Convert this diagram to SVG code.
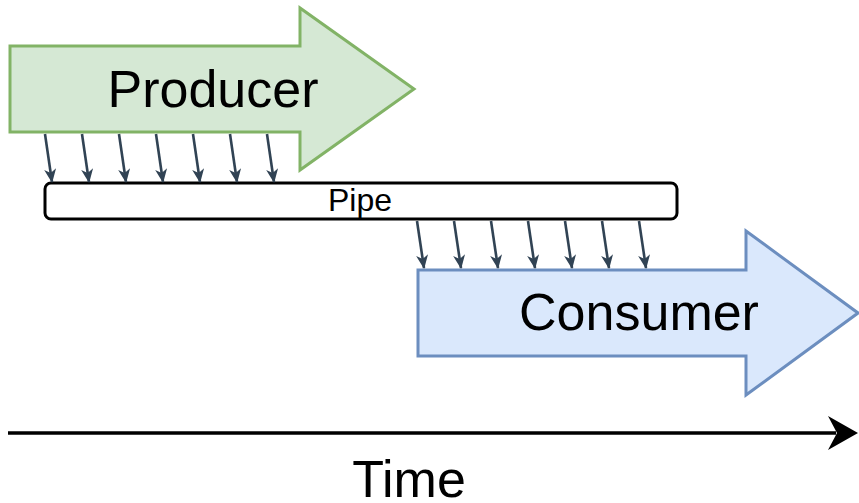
<svg xmlns="http://www.w3.org/2000/svg" width="859" height="503" viewBox="0 0 859 503">
  <style>
    .label { font-family: "Liberation Sans", Arial, sans-serif; fill: #000000; text-anchor: middle; }
    .big { font-size: 52px; }
    .small { font-size: 32px; }
    .producer { fill: #d5e8d4; stroke: #82b366; stroke-width: 3; stroke-linejoin: miter; }
    .consumer { fill: #dae8fc; stroke: #6c8ebf; stroke-width: 3; stroke-linejoin: miter; }
    .pipe { fill: #ffffff; stroke: #000000; stroke-width: 3; }
    .flow { stroke: #314354; stroke-width: 2.6; fill: none; marker-end: url(#flowHead); }
    .time { stroke: #000000; stroke-width: 3.5; fill: none; }
  </style>
  <defs>
    <marker id="flowHead" markerUnits="userSpaceOnUse" viewBox="0 0 14 12" refX="13" refY="6" markerWidth="14" markerHeight="12" orient="auto">
      <path d="M0,0 L14,6 L0,12 L4,6 Z" fill="#314354"/>
    </marker>
  </defs>

  <rect width="859" height="503" fill="#ffffff"/>

  <g id="producer">
    <path class="producer" d="M10,46 L300,46 L300,8 L414,89 L300,170 L300,132 L10,132 Z"/>
    <text class="label big" x="213" y="107">Producer</text>
  </g>

  <g id="pipe">
    <rect class="pipe" x="45" y="183" width="632" height="36" rx="6" ry="6"/>
    <text class="label small" x="360" y="211">Pipe</text>
  </g>

  <g id="consumer">
    <path class="consumer" d="M418,270 L746,270 L746,231 L858,313 L746,395 L746,356 L418,356 Z"/>
    <text class="label big" x="639" y="330">Consumer</text>
  </g>

  <g id="time">
    <line class="time" x1="8" y1="433" x2="836" y2="433"/>
    <path d="M858,433 L828,416 L837,433 L828,450 Z" fill="#000000"/>
    <text class="label big" x="409" y="497">Time</text>
  </g>

  <g id="connectors">
    <!-- producer writes into the pipe -->
    <line class="flow" x1="45" y1="134" x2="52" y2="182"/>
    <line class="flow" x1="82" y1="134" x2="89" y2="182"/>
    <line class="flow" x1="119" y1="134" x2="126" y2="182"/>
    <line class="flow" x1="156" y1="134" x2="163" y2="182"/>
    <line class="flow" x1="193" y1="134" x2="200" y2="182"/>
    <line class="flow" x1="230" y1="134" x2="237" y2="182"/>
    <line class="flow" x1="267" y1="134" x2="274" y2="182"/>
    <!-- consumer reads from the pipe -->
    <line class="flow" x1="417" y1="221" x2="424" y2="268"/>
    <line class="flow" x1="454" y1="221" x2="461" y2="268"/>
    <line class="flow" x1="491" y1="221" x2="498" y2="268"/>
    <line class="flow" x1="528" y1="221" x2="535" y2="268"/>
    <line class="flow" x1="565" y1="221" x2="572" y2="268"/>
    <line class="flow" x1="602" y1="221" x2="609" y2="268"/>
    <line class="flow" x1="639" y1="221" x2="646" y2="268"/>
  </g>
</svg>
